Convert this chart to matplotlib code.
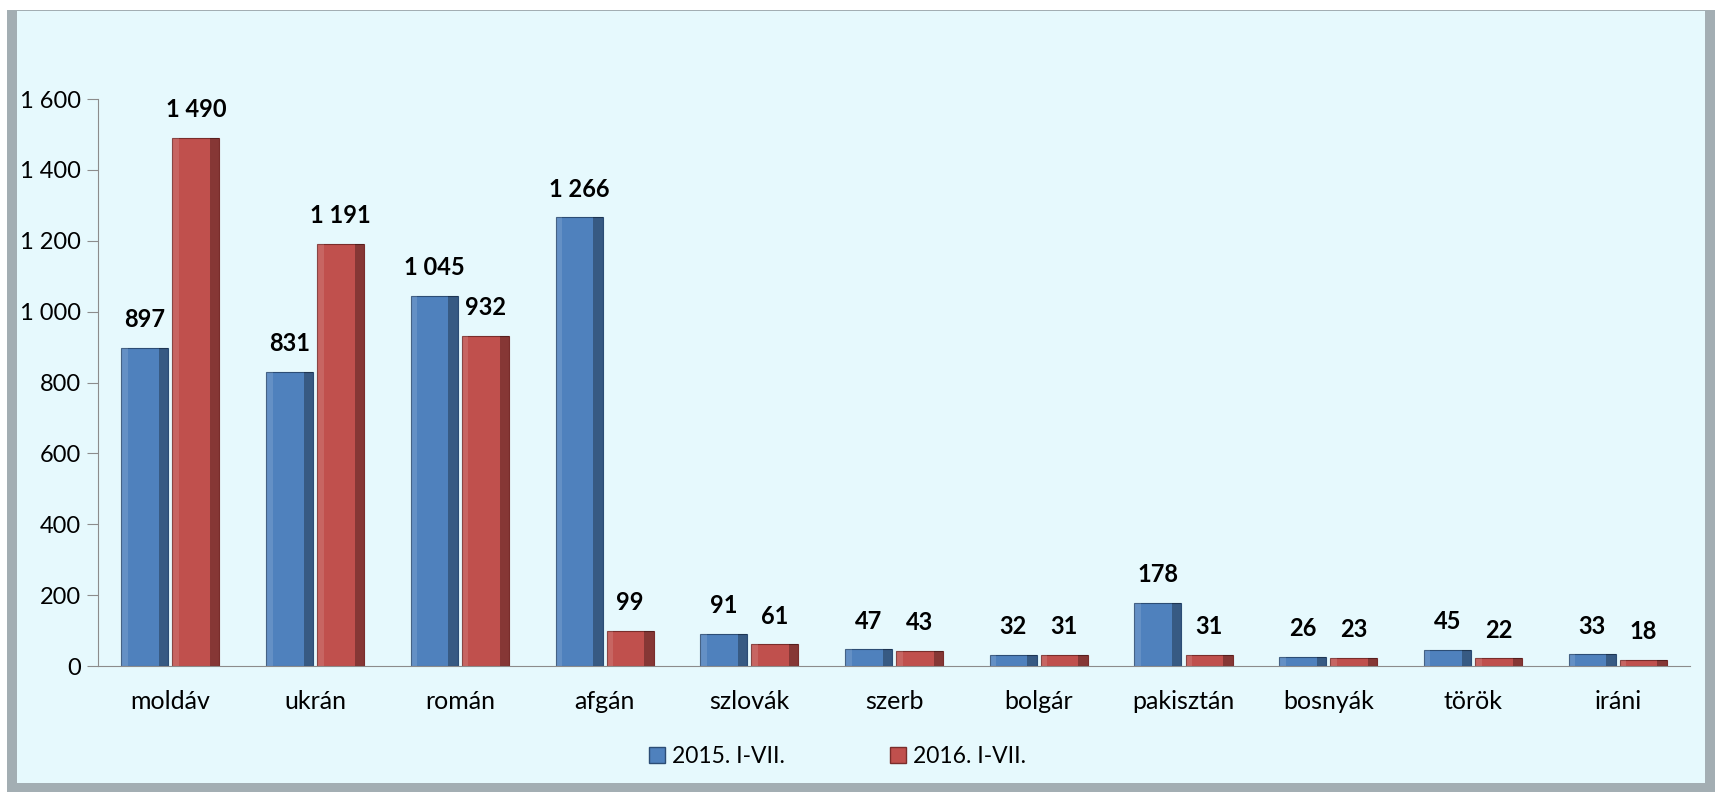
import numpy as np
import matplotlib.pyplot as plt
from matplotlib.patches import Rectangle

# adatok
kategoriak = ['moldáv', 'ukrán', 'román', 'afgán', 'szlovák', 'szerb',
              'bolgár', 'pakisztán', 'bosnyák', 'török', 'iráni']
ertek_2015 = [897, 831, 1045, 1266, 91, 47, 32, 178, 26, 45, 33]
ertek_2016 = [1490, 1191, 932, 99, 61, 43, 31, 31, 23, 22, 18]
sorozatok = ['2015. I-VII.', '2016. I-VII.']
y_ticks = [0, 200, 400, 600, 800, 1000, 1200, 1400, 1600]

KEK = '#4F81BD'
PIROS = '#C0504D'
HATTER = '#E6F9FD'

plt.rcParams['font.family'] = ['Lato', 'DejaVu Sans']

fig = plt.figure(figsize=(17.2, 7.92), dpi=100, facecolor='white')

# keret (árnyékolt szegély)
fig.patches.append(Rectangle((0.004, 0.0), 0.993, 0.988, transform=fig.transFigure,
                             facecolor='#A3AEB3', edgecolor='none', zorder=-2))
fig.patches.append(Rectangle((0.010, 0.011), 0.981, 0.975, transform=fig.transFigure,
                             facecolor=HATTER, edgecolor='none', zorder=-1))

ax = fig.add_axes([0.057, 0.159, 0.9256, 0.716])
ax.set_facecolor('none')

x = np.arange(len(kategoriak))
w = 0.325
gap = 0.014


def bevel_bars(xpos, vals, color, dark):
    bars = ax.bar(xpos, vals, w, color=color, edgecolor=dark, linewidth=0.8, zorder=2)
    # jobb oldali árnyék és bal oldali fény a 3D hatáshoz
    ax.bar(xpos + w * 0.40, vals, w * 0.20, color='black', alpha=0.3,
           linewidth=0, zorder=3)
    ax.bar(xpos - w * 0.43, vals, w * 0.14, color='white', alpha=0.12,
           linewidth=0, zorder=3)
    return bars


b1 = bevel_bars(x - w / 2 - gap, ertek_2015, KEK, '#2C4D75')
b2 = bevel_bars(x + w / 2 + gap, ertek_2016, PIROS, '#7A2D2B')


def fmt(v):
    return f'{v:,}'.replace(',', ' ')


for xs, vals in [(x - w / 2 - gap, ertek_2015), (x + w / 2 + gap, ertek_2016)]:
    for xi, v in zip(xs, vals):
        ax.annotate(fmt(v), (xi, v), xytext=(0, 12), textcoords='offset points',
                    ha='center', va='bottom', fontsize=17, fontweight='bold',
                    color='black', zorder=5)

ax.set_xlim(-0.5, len(kategoriak) - 0.5)
ax.set_ylim(0, 1600)
ax.set_yticks(y_ticks)
ax.set_yticklabels([fmt(t) for t in y_ticks], fontsize=17)
ax.set_xticks(x)
ax.set_xticklabels(kategoriak, fontsize=18)
ax.tick_params(axis='x', length=0, pad=17)
ax.tick_params(axis='y', length=8, color='#8C8C8C', direction='out', pad=4)

for s in ['top', 'right']:
    ax.spines[s].set_visible(False)
ax.spines['left'].set_color('#8C8C8C')
ax.spines['bottom'].set_color('#8C8C8C')

leg = fig.legend([Rectangle((0, 0), 1, 1, facecolor=KEK, edgecolor='#2C4D75'),
                  Rectangle((0, 0), 1, 1, facecolor=PIROS, edgecolor='#7A2D2B')],
                 sorozatok, loc='center', bbox_to_anchor=(0.487, 0.045), ncol=2,
                 frameon=False, fontsize=16.5, handlelength=0.7, handleheight=0.7,
                 handletextpad=0.3, columnspacing=4.6)

fig.savefig('out.png', dpi=100, facecolor=fig.get_facecolor())
